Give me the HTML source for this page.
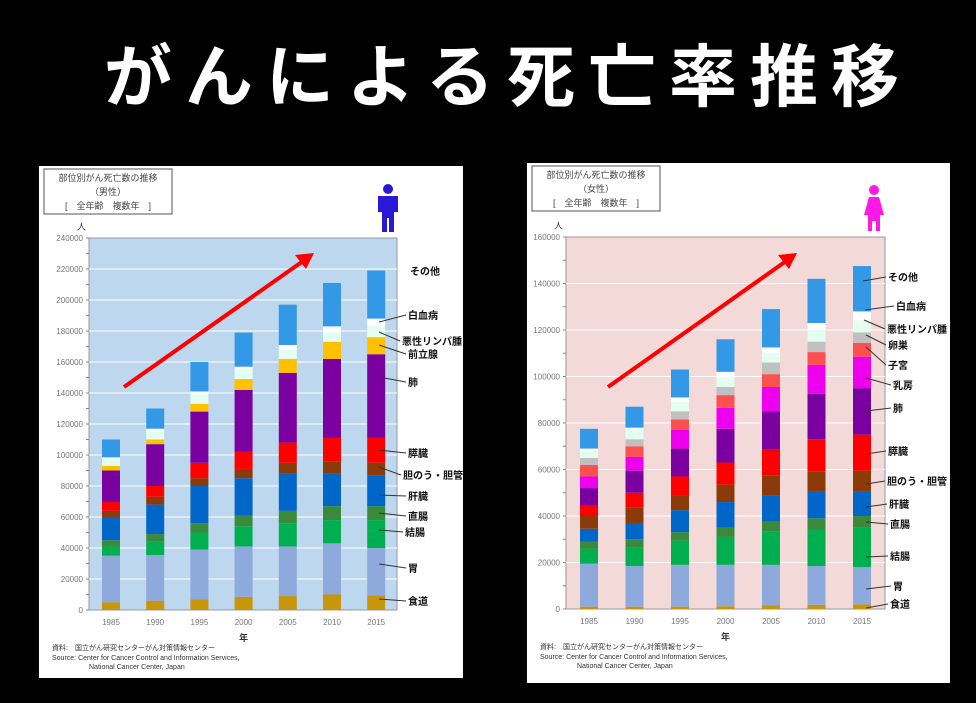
<!DOCTYPE html>
<html><head><meta charset="utf-8">
<style>
html,body{margin:0;padding:0;background:#000;}
body{width:976px;height:703px;position:relative;overflow:hidden;font-family:"Liberation Sans","Noto Sans CJK JP",sans-serif;}
#t{position:absolute;left:104px;top:32px;font-size:68px;font-weight:bold;color:#fff;letter-spacing:13px;white-space:nowrap;line-height:80px;font-family:"Noto Sans CJK JP",sans-serif;}
</style></head><body>
<div id="t">がんによる死亡率推移</div>
<svg id="s" width="976" height="703" style="position:absolute;left:0;top:0" xmlns="http://www.w3.org/2000/svg" font-family="Liberation Sans, Noto Sans CJK JP, sans-serif"></svg>
<script>
const NS="http://www.w3.org/2000/svg",S=document.getElementById('s');
function el(t,a,txt){const e=document.createElementNS(NS,t);for(const k in a)e.setAttribute(k,a[k]);if(txt!=null)e.textContent=txt;S.appendChild(e);return e;}
function panel(o){
 el('rect',{x:o.bx,y:o.by,width:o.bw,height:o.bh,fill:'#fff'});
 // title box
 el('rect',{x:o.bx+5,y:o.by+3,width:128,height:45,fill:'#fff',stroke:'#555','stroke-width':1});
 el('text',{x:o.bx+69,y:o.by+15,'font-size':9,'text-anchor':'middle',fill:'#444'},'部位別がん死亡数の推移');
 el('text',{x:o.bx+69,y:o.by+29,'font-size':9,'text-anchor':'middle',fill:'#444'},o.sex);
 el('text',{x:o.bx+69,y:o.by+43,'font-size':9,'text-anchor':'middle',fill:'#444'},'[　全年齢　複数年　]');
 const L=o.L,R=o.R,T=o.T,B=o.B;
 el('rect',{x:L,y:T,width:R-L,height:B-T,fill:o.bg,stroke:'#999','stroke-width':1});
 const n=o.ticks;
 for(let i=0;i<=n;i++){const y=B-(B-T)*i/n;
  if(i>0&&i<n)el('line',{x1:L,x2:R,y1:y,y2:y,stroke:'#fff','stroke-width':1});
  el('text',{x:L-6,y:y+3,'font-size':8,'text-anchor':'end',fill:'#777'},String(o.max*i/n));
  el('line',{x1:L-3,x2:L,y1:y,y2:y,stroke:'#888'});
  if(i<n){const y2=y-(B-T)/n/2;el('line',{x1:L-3,x2:L,y1:y2,y2:y2,stroke:'#888'});}
 }
 el('text',{x:L-12,y:T-8,'font-size':9,fill:'#333'},'人');
 const yrs=[1985,1990,1995,2000,2005,2010,2015];
 o.data.forEach((d,j)=>{const cx=o.c0+o.dc*j;let prev=0;
  d.forEach((v,k)=>{const y1=B-(B-T)*v/o.max,y0=B-(B-T)*prev/o.max;
   el('rect',{x:cx-9,y:y1,width:18,height:y0-y1,fill:o.col[k]});prev=v;});
  el('text',{x:cx,y:B+15,'font-size':8,'text-anchor':'middle',fill:'#777'},String(yrs[j]));
 });
 el('text',{x:o.c0+o.dc*3,y:B+31,'font-size':9,'text-anchor':'middle','font-weight':'bold',fill:'#333'},'年');
 el('text',{x:o.bx+13,y:B+40,'font-size':7,fill:'#333'},'資料:　国立がん研究センターがん対策情報センター');
 el('text',{x:o.bx+13,y:B+50,'font-size':7,fill:'#333'},'Source: Center for Cancer Control and Information Services,');
 el('text',{x:o.bx+50,y:B+59,'font-size':7,fill:'#333'},'National Cancer Center, Japan');
 o.labels.forEach(l=>{el('text',{x:l[1],y:l[2]+4,'font-size':10,'font-weight':'bold',fill:'#111'},l[0]);
  if(l[3])el('line',{x1:l[3],y1:l[4],x2:l[1]-2,y2:l[2],stroke:'#333','stroke-width':1});});
 // arrow
 const a=o.arrow;el('line',{x1:a[0],y1:a[1],x2:a[2]-8,y2:a[3]+6,stroke:'#f00','stroke-width':4});
 el('polygon',{points:`${a[2]},${a[3]} ${a[2]-19},${a[3]+2} ${a[2]-8},${a[3]+16}`,fill:'#f00'});
}
// male
panel({bx:39,by:166,bw:424,bh:512,sex:'（男性）',L:89,R:397,T:238,B:610,max:240000,ticks:12,bg:'#bdd7ee',c0:111,dc:44.2,
 col:['#c8960a','#8ea9db','#00b050','#3b8a3b','#0066c8','#8b3a0a','#ff0000','#7a00a0','#ffc000','#e2fff0','#ffffff','#3399e6'],
 data:[[5000,35000,41000,45000,60000,64000,70000,90000,93000,97000,98500,110000],
 [6000,35500,44000,49000,68000,73000,80000,107000,110000,115000,117000,130000],
 [7000,39000,50000,56000,80000,85000,95000,128000,133000,139000,141000,160000],
 [8500,41000,54000,61000,85000,91000,102000,142000,149000,155000,157000,179000],
 [9000,41000,56000,64000,88000,95000,108000,153000,162000,168000,171000,197000],
 [10000,43000,58000,67000,88000,96000,111000,162000,173000,179000,183000,211000],
 [9500,40000,58000,67000,87000,95000,111000,165000,176000,183000,188000,219000]],
 labels:[['その他',410,271],['白血病',408,315,379,322],['悪性リンパ腫',402,341,379,332],['前立腺',408,354,379,345],['肺',408,382,379,377],['膵臓',408,453,379,450],['胆のう・胆管',403,475,379,467],['肝臓',408,496,379,495],['直腸',408,516,379,513],['結腸',405,532,379,530],['胃',408,568,379,564],['食道',408,601,379,599]],
 arrow:[124,387,314,253]});
// female
panel({bx:527,by:163,bw:423,bh:520,sex:'（女性）',L:566,R:885,T:237,B:609,max:160000,ticks:8,bg:'#f4d9d9',c0:589,dc:45.5,
 col:['#c8960a','#8ea9db','#00b050','#3b8a3b','#0066c8','#8b3a0a','#ff0000','#7a00a0','#ee00ee','#ff5050','#c0c0c0','#e2fff0','#ffffff','#3399e6'],
 data:[[1000,19500,26000,29000,34500,40000,44500,52000,57000,62000,65000,68000,69000,77500],
 [1000,18500,26500,30000,37000,43500,50000,59500,65500,70000,73000,77000,78000,87000],
 [1000,19000,29500,33000,42500,49000,57000,69000,77000,81500,85000,89000,91000,103000],
 [1200,19000,31000,35000,46000,53500,63000,77500,86500,92000,95500,99500,102000,116000],
 [1500,19000,33500,37500,49000,57500,68500,85000,95500,101000,106000,110000,112500,129000],
 [1800,18500,34000,39000,50500,59000,73000,92500,105000,110500,115000,120000,123000,142000],
 [2000,18000,35000,40000,50500,59500,75000,95000,108500,114500,119000,124000,128000,147500]],
 labels:[['その他',888,277,863,281],['白血病',896,306,865,310],['悪性リンパ腫',887,329,864,320],['卵巣',888,345,866,335],['子宮',888,365,866,347],['乳房',893,385,866,378],['肺',893,408,866,411],['膵臓',888,451,866,454],['胆のう・胆管',887,481,866,484],['肝臓',889,504,866,507],['直腸',890,524,866,522],['結腸',890,556,866,557],['胃',893,586,866,589],['食道',890,604,866,608]],
 arrow:[608,387,797,253]});
// icons
el('circle',{cx:388,cy:189,r:5,fill:'#2a18d8'});
el('path',{d:'M378,196 h20 v16 h-4 v20 h-5 v-14 h-2 v14 h-5 v-20 h-4z',fill:'#2a18d8'});
el('circle',{cx:874,cy:190,r:5,fill:'#ff18e8'});
el('path',{d:'M869,197 h10 l5,18 h-4 v16 h-4 v-10 h-4 v10 h-4 v-16 h-4z',fill:'#ff18e8'});
</script>
</body></html>
